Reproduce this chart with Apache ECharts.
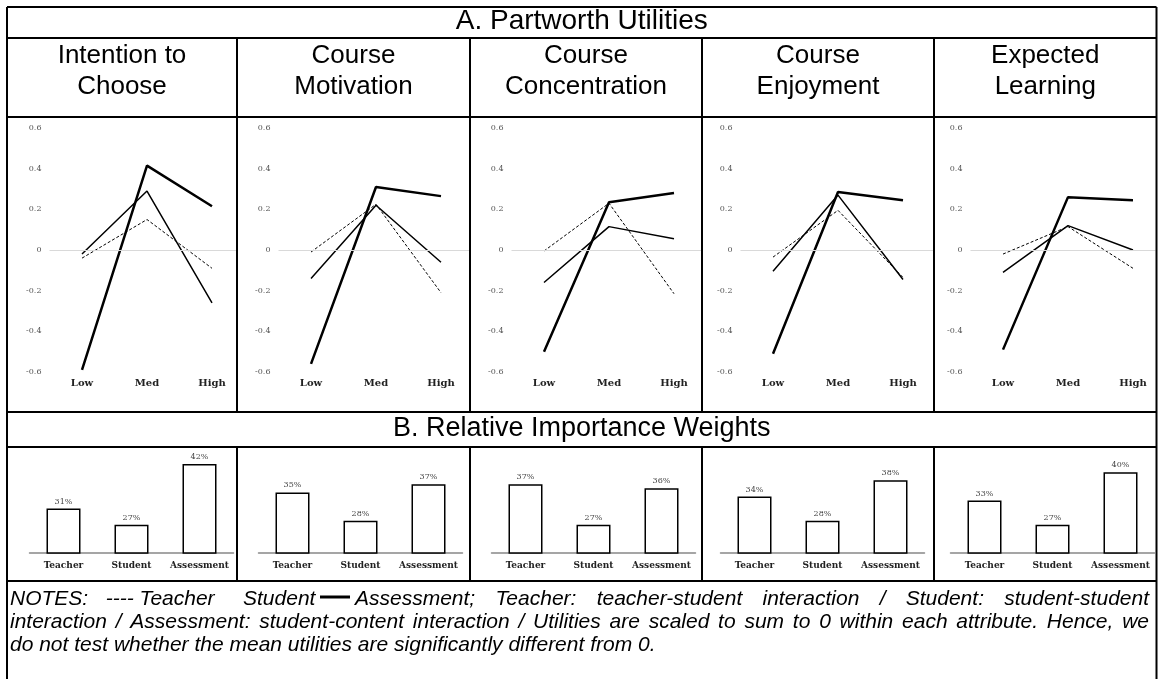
<!DOCTYPE html>
<html><head><meta charset="utf-8">
<script src="https://cdn.jsdelivr.net/npm/echarts@6/dist/echarts.min.js"></script>
<style>html,body{margin:0;padding:0;background:#fff}#c{width:1159px;height:679px}</style>
</head><body><div id="c"></div>
<script>
// ---------- DATA ----------
const panelTitles = [['Intention to','Choose'],['Course','Motivation'],['Course','Concentration'],['Course','Enjoyment'],['Expected','Learning']];
const levels = ['Low','Med','High'];
const teacherUtil    = [[-0.04,0.15,-0.09],[-0.01,0.225,-0.21],[-0.005,0.23,-0.215],[-0.035,0.195,-0.135],[-0.02,0.115,-0.09]];
const studentUtil    = [[-0.02,0.29,-0.26],[-0.14,0.22,-0.06],[-0.16,0.115,0.055],[-0.105,0.27,-0.145],[-0.11,0.12,0.0]];
const assessmentUtil = [[-0.59,0.415,0.215],[-0.56,0.31,0.265],[-0.50,0.235,0.28],[-0.51,0.285,0.245],[-0.49,0.26,0.245]];
const attributes = ['Teacher','Student','Assessment'];
const weights = [[31,27,42],[35,28,37],[37,27,36],[34,28,38],[33,27,40]];
const utilMin = -0.6, utilMax = 0.6, utilStep = 0.2;
const weightMin = 20, weightMax = 45;
const titleA = 'A. Partworth Utilities';
const titleB = 'B. Relative Importance Weights';
const notesPieces = ['NOTES:   ---- Teacher', 'Student', 'Assessment; Teacher: teacher-student interaction / Student: student-student'];
const notesLines = ['interaction / Assessment: student-content interaction / Utilities are scaled to sum to 0 within each attribute. Hence, we',
                    'do not test whether the mean utilities are significantly different from 0.'];

// ---------- LAYOUT ----------
const colEdges = [7, 237, 470, 702, 934, 1156.5];
const rowLines = [7, 38, 117, 412, 447, 581];
const lineLefts = [49.5, 278.5, 511.5, 740.5, 970.5];
const bandPx = 65;
const barLefts = [29.5, 258.5, 491.5, 720.5, 950.5];
const serif = 'DejaVu Serif';
const sans = 'Liberation Sans, Arial, sans-serif';

const grid = [], xAxis = [], yAxis = [], series = [];
for (let i = 0; i < 5; i++) {
  const w = colEdges[i + 1] - lineLefts[i] - 1;
  grid.push({left: lineLefts[i], top: 128, width: w, height: 244});
  xAxis.push({gridIndex: i, type: 'value', min: -0.5, max: -0.5 + w / bandPx, splitNumber: 3,
    splitLine: {show: false}, axisLine: {show: false}, axisTick: {show: false},
    axisLabel: {fontFamily: serif, fontWeight: 'bold', fontSize: 10, color: '#222', margin: 6,
      formatter: v => (Number.isInteger(v) && levels[v]) || ''}});
  yAxis.push({gridIndex: i, type: 'value', min: utilMin, max: utilMax, interval: utilStep,
    splitLine: {show: false}, axisLine: {show: false}, axisTick: {show: false},
    axisLabel: {fontFamily: serif, fontSize: 8, color: '#555', margin: 8,
      formatter: v => Math.abs(v) < 1e-9 ? '0' : v.toFixed(1)}});
  const pts = arr => levels.map((_, k) => [k, arr[k]]);
  series.push({type: 'line', xAxisIndex: i, yAxisIndex: i, data: pts(teacherUtil[i]), symbol: 'none',
    lineStyle: {color: '#000', width: 1, type: [3, 2]},
    markLine: {silent: true, symbol: 'none', label: {show: false},
      lineStyle: {color: '#d9d9d9', width: 1, type: 'solid'}, data: [{yAxis: 0}]}, z: 3});
  series.push({type: 'line', xAxisIndex: i, yAxisIndex: i, data: pts(studentUtil[i]), symbol: 'none',
    lineStyle: {color: '#000', width: 1.5}, z: 3});
  series.push({type: 'line', xAxisIndex: i, yAxisIndex: i, data: pts(assessmentUtil[i]), symbol: 'none',
    lineStyle: {color: '#000', width: 2.5}, z: 3});
}
for (let i = 0; i < 5; i++) {
  const g = 5 + i;
  grid.push({left: barLefts[i], top: 452, width: 204, height: 101});
  xAxis.push({gridIndex: g, type: 'category', data: attributes,
    axisLine: {show: true, onZero: false, lineStyle: {color: '#888', width: 1.5}}, axisTick: {show: false},
    axisLabel: {fontFamily: serif, fontWeight: 'bold', fontSize: 9, color: '#222', margin: 8, interval: 0}});
  yAxis.push({gridIndex: g, type: 'value', min: weightMin, max: weightMax, show: false, splitLine: {show: false}});
  series.push({type: 'bar', xAxisIndex: g, yAxisIndex: g, data: weights[i], barWidth: 34, clip: true,
    itemStyle: {color: '#fff', borderColor: '#000', borderWidth: 1.5},
    label: {show: true, position: 'top', distance: 3, formatter: '{c}%', fontFamily: serif, fontSize: 8, color: '#444'}});
}

// ---------- TABLE GRAPHICS ----------
const graphic = [];
const L = (x1, y1, x2, y2, w) => graphic.push({type: 'line', z: 100, silent: true,
  shape: {x1, y1, x2, y2}, style: {stroke: '#000', lineWidth: w || 2}});
rowLines.forEach(y => L(colEdges[0], y, colEdges[5], y));
L(colEdges[0], rowLines[0], colEdges[0], 679);
L(colEdges[5], rowLines[0], colEdges[5], 679);
for (let k = 1; k < 5; k++) {
  L(colEdges[k], rowLines[1], colEdges[k], rowLines[3]);
  L(colEdges[k], rowLines[4], colEdges[k], rowLines[5]);
}
const T = (text, x, y, font, align) => graphic.push({type: 'text', z: 100, silent: true,
  style: {text, x, y, font, fill: '#000', textAlign: align || 'center', textVerticalAlign: 'middle'}});
const midX = (colEdges[0] + colEdges[5]) / 2;
T(titleA, midX, 21, '28px ' + sans);
T(titleB, midX, 429, '27px ' + sans);
for (let i = 0; i < 5; i++) {
  const cx = (colEdges[i] + colEdges[i + 1]) / 2;
  T(panelTitles[i][0], cx, 56, '26px ' + sans);
  T(panelTitles[i][1], cx, 87, '26px ' + sans);
}
const nf = 'italic 21px ' + sans;
const ctx = document.createElement('canvas').getContext('2d');
ctx.font = nf;
function justify(str, x0, x1, y) {
  const words = str.split(' ');
  const ws = words.map(w => ctx.measureText(w).width);
  const gap = (x1 - x0 - ws.reduce((a, b) => a + b, 0)) / (words.length - 1);
  let x = x0;
  words.forEach((w, k) => { T(w, x, y, nf, 'left'); x += ws[k] + gap; });
}
const ny = [599, 622, 645];
T(notesPieces[0], 10, ny[0], nf, 'left');
T(notesPieces[1], 243, ny[0], nf, 'left');
L(320, ny[0] - 2, 350, ny[0] - 2, 3);
justify(notesPieces[2], 355, 1149, ny[0]);
justify(notesLines[0], 10, 1149, ny[1]);
T(notesLines[1], 10, ny[2], nf, 'left');

const chart = echarts.init(document.getElementById('c'), null, {renderer: 'canvas'});
chart.setOption({animation: false, backgroundColor: '#fff', grid, xAxis, yAxis, series, graphic});
</script></body></html>
